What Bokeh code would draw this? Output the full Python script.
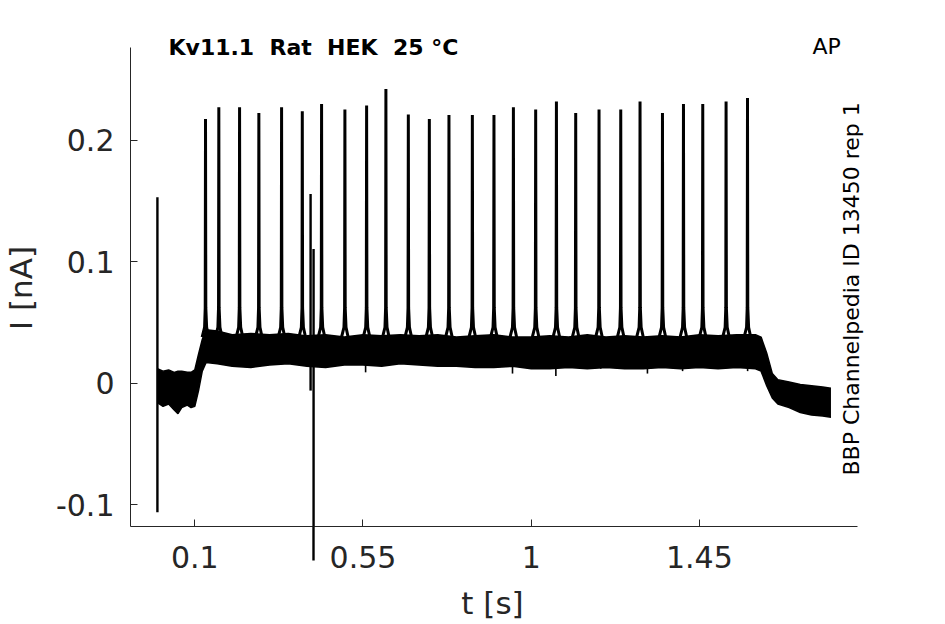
import math
from bokeh.plotting import figure
from bokeh.models import Range1d, FixedTicker, Label, LinearAxis
from bokeh.embed import file_html
from bokeh.resources import INLINE

# ---------------- data ----------------
x_ticks = [0.1, 0.55, 1.0, 1.45]
x_tick_labels = ["0.1", "0.55", "1", "1.45"]
y_ticks = [-0.1, 0.0, 0.1, 0.2]
y_tick_labels = ["-0.1", "0", "0.1", "0.2"]

# action-potential-like spikes: time [s] and peak current [nA]
spike_t = [0.1287, 0.1643, 0.2198, 0.2714, 0.3322, 0.3876, 0.4392, 0.5016,
           0.5597, 0.6113, 0.6713, 0.7275, 0.7800, 0.8426, 0.9004, 0.9524,
           1.0120, 1.0675, 1.1191, 1.1815, 1.2396, 1.2912, 1.3512, 1.4074,
           1.4590, 1.5214, 1.5787]
spike_peak = [0.2174, 0.2270, 0.2270, 0.2224, 0.2270, 0.2237, 0.2298, 0.2251,
              0.2284, 0.2421, 0.2210, 0.2174, 0.2207, 0.2207, 0.2207, 0.2270,
              0.2251, 0.2317, 0.2224, 0.2251, 0.2251, 0.2317, 0.2224, 0.2298,
              0.2298, 0.2317, 0.2347]

# noisy current band: time, lower and upper envelope [nA]
env_t = [0.000, 0.015, 0.030, 0.045, 0.055, 0.065, 0.080, 0.090, 0.100, 0.110,
         0.120, 0.130, 0.160, 0.200, 0.250, 0.300, 0.350, 0.400, 0.450, 0.500,
         0.550, 0.600, 0.650, 0.700, 0.750, 0.800, 0.850, 0.900, 0.950, 1.000,
         1.050, 1.100, 1.150, 1.200, 1.250, 1.300, 1.350, 1.400, 1.450, 1.500,
         1.550, 1.600, 1.615, 1.630, 1.645, 1.660, 1.690, 1.720, 1.750, 1.780,
         1.802]
env_lo = [-0.016, -0.019, -0.017, -0.022, -0.025, -0.020, -0.018, -0.020, -0.019, -0.006,
          0.010, 0.017, 0.016, 0.014, 0.013, 0.015, 0.016, 0.014, 0.013, 0.015,
          0.015, 0.014, 0.016, 0.015, 0.014, 0.014, 0.013, 0.013, 0.014, 0.012,
          0.012, 0.013, 0.012, 0.013, 0.012, 0.012, 0.013, 0.012, 0.013, 0.012,
          0.013, 0.012, 0.010, -0.002, -0.012, -0.017, -0.020, -0.024, -0.026, -0.027,
          -0.028]
env_hi = [0.012, 0.010, 0.011, 0.009, 0.010, 0.010, 0.009, 0.009, 0.011, 0.024,
          0.036, 0.044, 0.043, 0.040, 0.041, 0.040, 0.041, 0.039, 0.040, 0.038,
          0.040, 0.039, 0.040, 0.039, 0.040, 0.038, 0.039, 0.040, 0.038, 0.038,
          0.039, 0.038, 0.040, 0.038, 0.039, 0.038, 0.039, 0.038, 0.040, 0.039,
          0.040, 0.040, 0.038, 0.025, 0.008, 0.003, 0.001, -0.001, -0.002, -0.003,
          -0.004]

# downward glitches below the band
dip_t = [0.557, 0.950, 1.066, 1.186, 1.311, 1.405, 1.579]
dip_v = [0.009, 0.008, 0.006, 0.012, 0.008, 0.010, 0.010]

# large transients (time, start value, end value)
trans_t = [0.0, 0.4098, 0.4178]
trans_lo = [-0.106, -0.006, -0.146]
trans_hi = [0.153, 0.1557, 0.1105]

# ---------------- layout ----------------
W, H = 929, 624
X0, X1 = -0.072, 1.873        # axis extent (x)
Y0, Y1 = -0.1178, 0.2762      # axis extent (y)
PAGE_L, PAGE_T, AW, AH = 130, 47, 727, 479   # axis box in page pixels
FRAME_T, FRAME_R = 20, 872                    # frame extended for texts


def px_x(px):
    return X0 + (px - PAGE_L) / AW * (X1 - X0)


def px_y(py):
    return Y1 - (py - PAGE_T) / AH * (Y1 - Y0)


INK = "#262626"
FONT = "DejaVu Sans"

p = figure(width=W, height=H,
           x_range=Range1d(X0, px_x(FRAME_R)), y_range=Range1d(Y0, px_y(FRAME_T)),
           output_backend="svg", toolbar_location=None,
           min_border_left=PAGE_L, min_border_right=W - FRAME_R,
           min_border_top=FRAME_T, min_border_bottom=H - (PAGE_T + AH))
p.outline_line_color = None
p.grid.visible = False
p.background_fill_color = "white"
p.border_fill_color = "white"

p.xaxis.ticker = FixedTicker(ticks=x_ticks, minor_ticks=[trans_t[2]])
p.xaxis.major_label_overrides = {t: l for t, l in zip(x_ticks, x_tick_labels)}
p.yaxis.ticker = FixedTicker(ticks=y_ticks)
p.yaxis.major_label_overrides = {t: l for t, l in zip(y_ticks, y_tick_labels)}
p.xaxis.bounds = (X0, X1)
p.yaxis.bounds = (Y0, Y1)
for ax in (p.xaxis[0], p.yaxis[0]):
    ax.axis_line_color = INK
    ax.axis_line_width = 1
    ax.major_tick_line_color = INK
    ax.major_tick_in = 7
    ax.major_tick_out = 0
    ax.major_label_text_font = FONT
    ax.major_label_text_font_size = "30px"
    ax.major_label_text_color = INK
p.yaxis.minor_tick_line_color = None
# the last transient runs below the axis line in the reference
p.xaxis.minor_tick_in = 0
p.xaxis.minor_tick_out = 34
p.xaxis.minor_tick_line_color = "black"
p.xaxis.minor_tick_line_width = 2.4
p.xaxis.major_label_standoff = -15
p.yaxis.major_label_standoff = 16

# axis titles, centred on the axis extent (not on the enlarged frame)
xc = round(px_x(492), 5)
yc = round(px_y(287.5), 5)
xlab_axis = LinearAxis(ticker=FixedTicker(ticks=[xc]), major_label_overrides={xc: "t [s]"},
                       axis_line_color=None, major_tick_line_color=None,
                       minor_tick_line_color=None, major_label_standoff=8,
                       major_label_text_font=FONT, major_label_text_font_size="31px",
                       major_label_text_color=INK)
ylab_axis = LinearAxis(ticker=FixedTicker(ticks=[yc]), major_label_overrides={yc: "I [nA]"},
                       axis_line_color=None, major_tick_line_color=None,
                       minor_tick_line_color=None, major_label_standoff=7,
                       major_label_orientation="vertical",
                       major_label_text_font=FONT, major_label_text_font_size="31px",
                       major_label_text_color=INK)
p.add_layout(xlab_axis, "below")
p.add_layout(ylab_axis, "left")

# noise band
p.varea(x=env_t, y1=env_lo, y2=env_hi, fill_color="black")
p.line(x=env_t, y=env_hi, line_color="black", line_width=1.5)
p.line(x=env_t, y=env_lo, line_color="black", line_width=1.5)

# spikes
sxs, sys_ = [], []
for t, pk in zip(spike_t, spike_peak):
    sxs.append([t - 0.009, t - 0.0025, t - 0.0008, t, t + 0.0008, t + 0.003, t + 0.010])
    sys_.append([0.038, 0.046, 0.062, pk, 0.062, 0.046, 0.036])
p.multi_line(xs=sxs, ys=sys_, line_color="black", line_width=3.0, line_join="miter")

# dips
p.segment(x0=dip_t, y0=[0.02] * len(dip_t), x1=dip_t, y1=dip_v,
          line_color="black", line_width=1.6)

# transients
p.segment(x0=trans_t, y0=trans_lo, x1=trans_t, y1=trans_hi,
          line_color="black", line_width=2.4)

# texts (double spaces kept with no-break spaces so SVG does not collapse them)
title_text = "Kv11.1\u00a0 Rat\u00a0 HEK\u00a0 25 °C"
p.add_layout(Label(x=px_x(168), y=px_y(47), text=title_text,
                   text_font=FONT, text_font_size="22px", text_font_style="bold",
                   text_color="black", text_align="left", text_baseline="alphabetic"))
p.add_layout(Label(x=px_x(812), y=px_y(46), text="AP",
                   text_font=FONT, text_font_size="22px",
                   text_color="black", text_align="left", text_baseline="alphabetic"))
p.add_layout(Label(x=px_x(851), y=px_y(475), text="BBP Channelpedia ID 13450 rep 1",
                   angle=math.pi / 2, text_font=FONT, text_font_size="22px",
                   text_color="black", text_align="left", text_baseline="alphabetic"))

open("out.html", "w").write(file_html(p, INLINE))
